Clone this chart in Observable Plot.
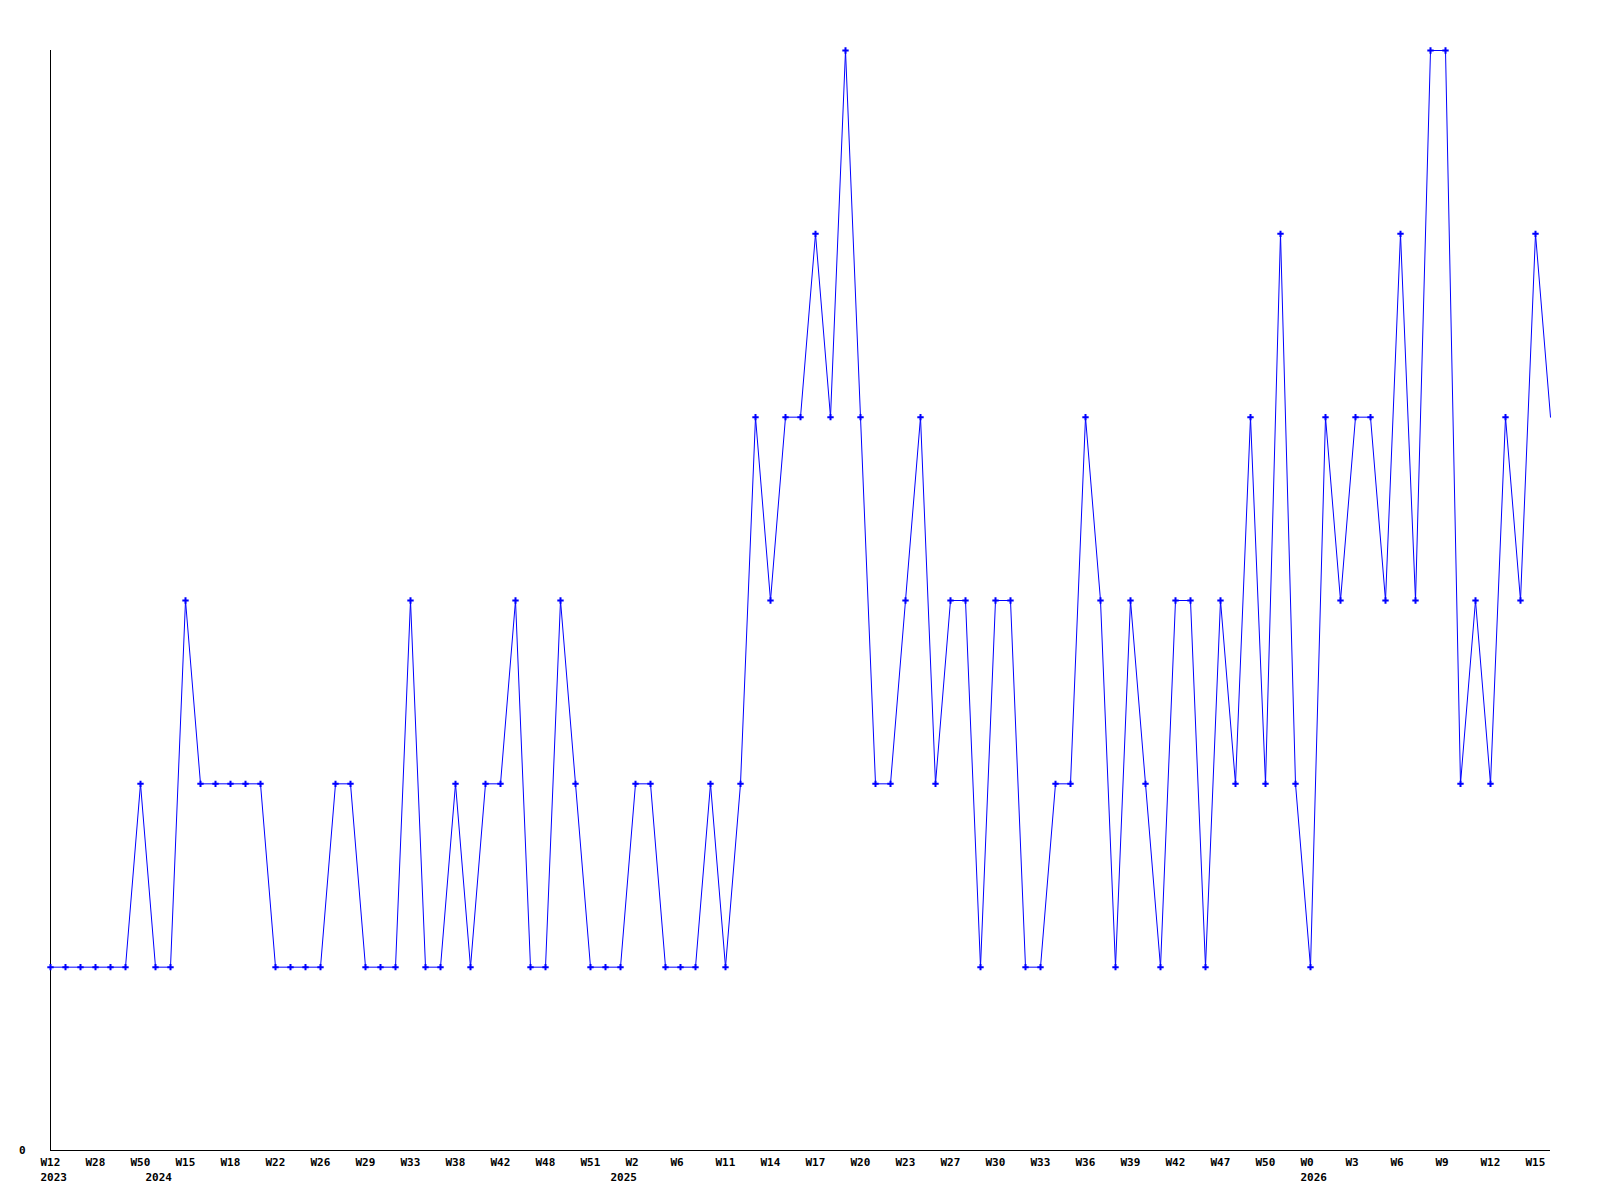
<!DOCTYPE html>
<html>
<head>
<meta charset="utf-8">
<script src="https://cdn.jsdelivr.net/npm/d3@7"></script>
<script src="https://cdn.jsdelivr.net/npm/@observablehq/plot@0.6"></script>
<style>
  html, body { margin: 0; padding: 0; background: #fff; }
  #chart svg { display: block; }
</style>
</head>
<body>
<div id="chart"></div>
<script>
// Weekly series values (one per point, in order)
const values = [
  1,1,1,1,1,1,2,1,1,3,
  2,2,2,2,2,1,1,1,1,2,
  2,1,1,1,3,1,1,2,1,2,
  2,3,1,1,3,2,1,1,1,2,
  2,1,1,1,2,1,2,4,3,4,
  4,5,4,6,4,2,2,3,4,2,
  3,3,1,3,3,1,1,2,2,4,
  3,1,3,2,1,3,3,1,3,2,
  4,2,5,2,1,4,3,4,4,3,
  5,3,6,6,2,3,2,4,3,5,
  4
];

// Week tick labels, one every third point
const weekLabels = [
  "W12","W28","W50","W15","W18","W22","W26","W29","W33","W38","W42","W48",
  "W51","W2","W6","W11","W14","W17","W20","W23","W27","W30","W33","W36",
  "W39","W42","W47","W50","W0","W3","W6","W9","W12","W15"
];
const weekStep = 3;

// Year labels and the point index where each year starts
const years = ["2023", "2024", "2025", "2026"];
const yearStart = [0, 7, 38, 84];

const data = values.map((v, i) => ({i, v}));
const dotData = data.slice(0, data.length - 1);
const weekTicks = weekLabels.map((_, k) => k * weekStep);
const weekMap = new Map(weekTicks.map((t, k) => [t, weekLabels[k]]));
const yearMap = new Map(yearStart.map((t, k) => [t, years[k]]));

const font = "DejaVu Sans Mono";
const blue = "#0000ff";

const chart = Plot.plot({
  width: 1600,
  height: 1200,
  marginLeft: 50,
  marginRight: 50,
  marginTop: 50,
  marginBottom: 50,
  style: {fontFamily: font, fontSize: "11px", fontWeight: "bold", background: "#fff", color: "#000"},
  x: {type: "linear", domain: [0, values.length - 1]},
  y: {type: "linear", domain: [0, 6]},
  marks: [
    Plot.axisY({ticks: [0], tickFormat: d => String(d), tickSize: 0, tickPadding: 25, label: null,
      fontFamily: font, fontWeight: "bold", fontSize: 11}),
    Plot.axisX({ticks: weekTicks, tickFormat: d => weekMap.get(d), tickSize: 0, tickPadding: 8,
      textAnchor: "start", dx: -10, label: null, fontFamily: font, fontWeight: "bold", fontSize: 11}),
    Plot.axisX({ticks: yearStart, tickFormat: d => yearMap.get(d), tickSize: 0, tickPadding: 23,
      textAnchor: "start", dx: -10, label: null, fontFamily: font, fontWeight: "bold", fontSize: 11}),
    Plot.ruleX([0], {stroke: "#000", strokeWidth: 1}),
    Plot.ruleY([0], {stroke: "#000", strokeWidth: 1}),
    Plot.line(data, {x: "i", y: "v", stroke: blue, strokeWidth: 1}),
    Plot.dot(dotData, {x: "i", y: "v", symbol: "plus", r: 2.2, stroke: blue, strokeWidth: 2})
  ]
});
document.getElementById("chart").appendChild(chart);
</script>
</body>
</html>
